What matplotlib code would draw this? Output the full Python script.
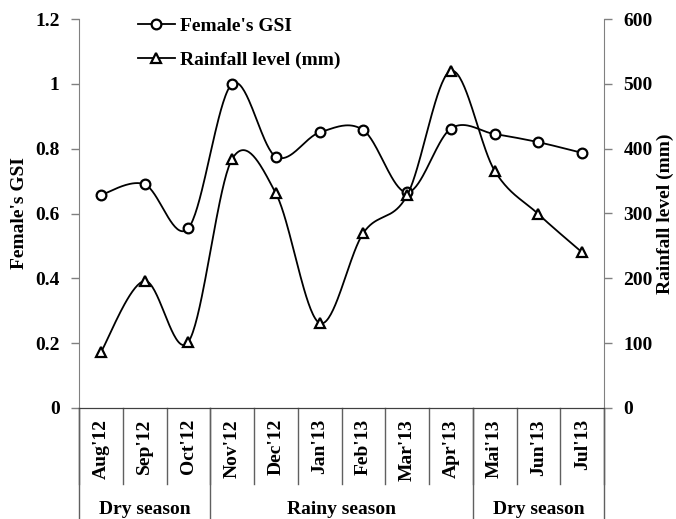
import numpy as np
import matplotlib
matplotlib.use("Agg")
import matplotlib.pyplot as plt
from matplotlib.lines import Line2D

months = ["Aug'12", "Sep'12", "Oct'12", "Nov'12", "Dec'12", "Jan'13",
          "Feb'13", "Mar'13", "Apr'13", "Mai'13", "Jun'13", "Jul'13"]
gsi = [0.657, 0.690, 0.555, 1.000, 0.775, 0.850, 0.857, 0.665, 0.862, 0.845, 0.820, 0.787]
rain = [86, 196, 102, 384, 331, 131, 270, 328, 520, 366, 299, 240]
seasons = ["Dry season", "Rainy season", "Dry season"]
season_sizes = [3, 6, 3]
gsi_ticks = [0, 0.2, 0.4, 0.6, 0.8, 1.0, 1.2]
gsi_ticklabels = ["0", "0.2", "0.4", "0.6", "0.8", "1", "1.2"]
rain_ticks = [0, 100, 200, 300, 400, 500, 600]

plt.rcParams['font.family'] = ['Liberation Serif', 'DejaVu Serif']
plt.rcParams['font.weight'] = 'bold'
FS = 14


def smooth(x, y, n=40):
    x = np.asarray(x, float)
    y = np.asarray(y, float)
    P = np.column_stack([x, y])
    Pe = np.vstack([P[0], P, P[-1]])
    out = []
    t = np.linspace(0, 1, n)[:, None]
    for i in range(len(P) - 1):
        p0, p3 = Pe[i + 1], Pe[i + 2]
        c1 = p0 + (Pe[i + 2] - Pe[i]) / 6.0
        c2 = p3 - (Pe[i + 3] - Pe[i + 1]) / 6.0
        seg = ((1 - t) ** 3) * p0 + 3 * ((1 - t) ** 2) * t * c1 + 3 * (1 - t) * t ** 2 * c2 + t ** 3 * p3
        out.append(seg if i == 0 else seg[1:])
    out = np.vstack(out)
    return out[:, 0], out[:, 1]


fig = plt.figure(figsize=(6.76, 5.19), dpi=100)
L, R, B, T = 79 / 676, 604 / 676, 1 - 408 / 519, 1 - 19 / 519
ax = fig.add_axes([L, B, R - L, T - B])
ax2 = ax.twinx()

x = np.arange(len(months))
sx, sy = smooth(x, gsi)
ax.plot(sx, sy, color='black', lw=1.3, zorder=3)
ax.plot(x, gsi, linestyle='none', marker='o', ms=7, mfc='white', mec='black', mew=1.6, zorder=4)
rx, ry = smooth(x, rain)
ax2.plot(rx, ry, color='black', lw=1.3, zorder=3)
ax2.plot(x, rain, linestyle='none', marker='^', ms=7, mfc='white', mec='black', mew=1.6, zorder=4)

ax.set_xlim(-0.5, len(months) - 0.5)
ax.set_ylim(0, 1.2)
ax2.set_ylim(0, 600)
ax.set_yticks(gsi_ticks)
ax.set_yticklabels(gsi_ticklabels)
ax2.set_yticks(rain_ticks)
ax.set_xticks([])

for a in (ax, ax2):
    a.spines['top'].set_visible(False)
    for s in ('left', 'right'):
        a.spines[s].set_color('#808080')
    a.spines['bottom'].set_color('#404040')
    a.tick_params(axis='y', direction='out', length=6, width=1, color='#808080',
                  labelsize=FS, pad=8)
ax2.spines['left'].set_visible(False)
ax.spines['right'].set_visible(False)

ax.set_ylabel("Female's GSI", fontsize=FS, fontweight='bold', labelpad=5)
ax2.set_ylabel("Rainfall level (mm)", fontsize=FS, fontweight='bold', labelpad=3)

# category labels and separators
trans = ax.get_xaxis_transform()
axh_px = 389.0
def py(px):
    return -px / axh_px

for i, m in enumerate(months):
    ax.text(i, py(11), m, rotation=90, ha='center', va='top', fontsize=FS,
            fontweight='bold', transform=trans, clip_on=False)
for i in range(len(months) + 1):
    ax.plot([i - 0.5, i - 0.5], [0, py(76)], color='#606060', lw=1,
            transform=trans, clip_on=False)
pos = 0
bounds = [0]
for name, n in zip(seasons, season_sizes):
    ax.text(pos + n / 2 - 0.5, py(101), name, ha='center', va='center', fontsize=FS,
            fontweight='bold', transform=trans, clip_on=False)
    pos += n
    bounds.append(pos)
for b in bounds:
    ax.plot([b - 0.5, b - 0.5], [0, py(115)], color='#606060', lw=1,
            transform=trans, clip_on=False)

handles = [Line2D([], [], color='black', lw=1.3, marker='o', ms=7, mfc='white', mec='black', mew=1.6),
           Line2D([], [], color='black', lw=1.3, marker='^', ms=7, mfc='white', mec='black', mew=1.6)]
leg = ax.legend(handles, ["Female's GSI", "Rainfall level (mm)"], loc='upper left',
                bbox_to_anchor=(0.0975, 1.025), borderaxespad=0, frameon=False, fontsize=FS,
                handlelength=1.9, handletextpad=0.25, labelspacing=0.85)

fig.savefig("out.png", dpi=100)
